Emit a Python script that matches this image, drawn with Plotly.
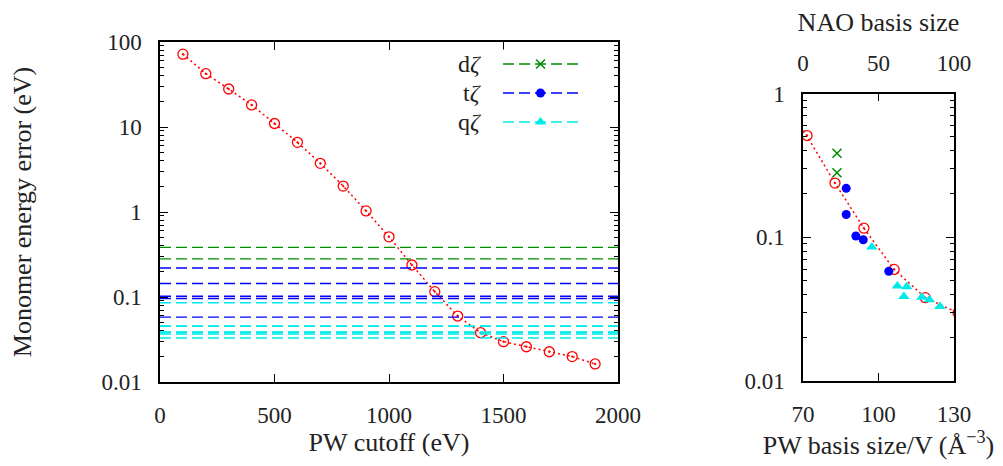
import plotly.graph_objects as go

# ---------------- data ----------------
pw_cutoff = [100, 200, 300, 400, 500, 600, 700, 800, 900, 1000,
             1100, 1200, 1300, 1400, 1500, 1600, 1700, 1800, 1900]
pw_error = [72, 42.4, 28, 18.2, 11.0, 6.6, 3.74, 2.02, 1.03, 0.51,
            0.238, 0.1156, 0.0597, 0.038, 0.0298, 0.026, 0.0227, 0.0199, 0.0163]

# PW cutoffs 900..1500 eV expressed as basis size per volume (right panel)
pw_basis_per_v = [61.1, 71.6, 82.7, 94.2, 106.2, 118.6, 131.6]
pw_basis_error = [1.03, 0.51, 0.238, 0.1156, 0.0597, 0.038, 0.0298]

dz_size = [22.5, 22.5]
dz_error = [0.384, 0.281]
tz_size = [28.6, 28.6, 35.0, 39.9, 56.8]
tz_error = [0.219, 0.144, 0.102, 0.096, 0.058]
qz_size = [45.6, 62.5, 68.7, 66.8, 78.7, 83.7, 90.7]
qz_error = [0.0855, 0.0458, 0.0452, 0.0387, 0.0382, 0.0367, 0.033]

legend_labels = ["d<i>ζ</i>", "t<i>ζ</i>", "q<i>ζ</i>"]

left_x_ticks = [0, 500, 1000, 1500, 2000]
left_y_ticks = [0.01, 0.1, 1, 10, 100]
left_y_ticktext = ["0.01", "0.1", "1", "10", "100"]
right_y_ticks = [0.01, 0.1, 1]
right_y_ticktext = ["0.01", "0.1", "1"]
pw_v_ticks = [70, 100, 130]
nao_ticks = [0, 50, 100]

# ---------------- styles ----------------
OFF = 8                      # page body margin of the browser
W, H = 1003 - OFF, 466 - OFF
FONT = "Liberation Serif, Times New Roman, DejaVu Serif, serif"
FS = 23
FS_TITLE = 26
TXT = "#222222"
RED = "#ff0000"
GREEN = "rgb(0,140,0)"
BLUE = "#0000ff"
CYAN = "#00eaea"
DASH = "11px,5px"
DOT = "2px,3px"


def px_x(p):
    return (p - OFF) / W


def px_y(p):
    return 1 - (p - OFF) / H


minor_left = [m * 10 ** e for e in range(-2, 2) for m in range(2, 10)]
minor_right = [m * 10 ** e for e in range(-2, 0) for m in range(2, 10)]

fig = go.Figure()

# ---- left panel ----
fig.add_trace(go.Scatter(
    x=pw_cutoff, y=pw_error, mode="lines+markers", xaxis="x", yaxis="y",
    line=dict(color=RED, width=1.5, dash=DOT),
    marker=dict(symbol="circle-open-dot", size=10, color=RED, line=dict(width=1.3, color=RED)),
    showlegend=False))


def hlines(vals):
    xs, ys = [], []
    for v in vals:
        xs += [left_x_ticks[0], left_x_ticks[-1], None]
        ys += [v, v, None]
    return xs, ys


for vals, col in [(dz_error, GREEN), (tz_error, BLUE), (qz_error, CYAN)]:
    xs, ys = hlines(vals)
    fig.add_trace(go.Scatter(x=xs, y=ys, mode="lines", xaxis="x", yaxis="y",
                             line=dict(color=col, width=1.4, dash=DASH),
                             showlegend=False, hoverinfo="skip"))

# ---- right panel ----
fig.add_trace(go.Scatter(
    x=pw_basis_per_v, y=pw_basis_error, mode="lines+markers", xaxis="x2", yaxis="y2",
    line=dict(color=RED, width=1.5, dash=DOT),
    marker=dict(symbol="circle-open-dot", size=10, color=RED, line=dict(width=1.3, color=RED)),
    showlegend=False))
fig.add_trace(go.Scatter(
    x=dz_size, y=dz_error, mode="markers", xaxis="x3", yaxis="y2",
    marker=dict(symbol="x-thin-open", size=9, color=GREEN, line=dict(width=1.5, color=GREEN)),
    showlegend=False))
fig.add_trace(go.Scatter(
    x=tz_size, y=tz_error, mode="markers", xaxis="x3", yaxis="y2",
    marker=dict(symbol="circle", size=9, color=BLUE, line=dict(width=0)),
    showlegend=False))
fig.add_trace(go.Scatter(
    x=qz_size, y=qz_error, mode="markers", xaxis="x3", yaxis="y2",
    marker=dict(symbol="triangle-up", size=10, color=CYAN, line=dict(width=0)),
    showlegend=False))

# ---- legend keys (gnuplot style: text left, sample right) ----
key_styles = [
    (GREEN, dict(symbol="x-thin-open", size=9, color=GREEN, line=dict(width=1.5, color=GREEN))),
    (BLUE, dict(symbol="circle", size=9, color=BLUE, line=dict(width=0))),
    (CYAN, dict(symbol="triangle-up", size=10, color=CYAN, line=dict(width=0))),
]
for i, (col, mk) in enumerate(key_styles):
    fig.add_trace(go.Scatter(x=[0, 1], y=[i, i], mode="lines", xaxis="x4", yaxis="y4",
                             line=dict(color=col, width=1.4, dash=DASH),
                             showlegend=False, hoverinfo="skip"))
    fig.add_trace(go.Scatter(x=[0.5], y=[i], mode="markers", xaxis="x4", yaxis="y4",
                             marker=mk, showlegend=False, hoverinfo="skip"))
    fig.add_annotation(x=px_x(484), y=i, xref="paper", yref="y4", text=legend_labels[i],
                       showarrow=False, xanchor="right", yanchor="middle",
                       font=dict(family=FONT, size=24, color=TXT))

axis_common = dict(showline=True, linecolor="black", linewidth=1.5, showgrid=False,
                   zeroline=False, ticks="inside", ticklen=8, tickwidth=1.2, tickcolor="black",
                   tickfont=dict(family=FONT, size=FS, color=TXT), automargin=False)
title_font = dict(family=FONT, size=FS_TITLE, color=TXT)

fig.update_layout(
    width=W, height=H, margin=dict(l=0, r=0, t=0, b=0),
    font=dict(family=FONT, size=FS, color=TXT),
    paper_bgcolor="white", plot_bgcolor="white", showlegend=False,
    xaxis=dict(axis_common, domain=[px_x(160), px_x(618)], range=[0, 2000],
               tickvals=left_x_ticks, ticktext=[str(v) for v in left_x_ticks],
               mirror="ticks", anchor="y", ticklabelstandoff=12,
               title=dict(text="PW cutoff (eV)", font=title_font, standoff=4)),
    yaxis=dict(axis_common, type="log", domain=[px_y(382), px_y(42)], range=[-2, 2],
               tickvals=left_y_ticks, ticktext=left_y_ticktext, mirror="ticks", anchor="x",
               ticklabelstandoff=12,
               minor=dict(ticks="inside", ticklen=4, tickwidth=1, tickcolor="black", tickvals=minor_left),
               title=dict(text="Monomer energy error (eV)", font=title_font, standoff=68)),
    xaxis2=dict(axis_common, domain=[px_x(803), px_x(954)], range=[70, 130],
                tickvals=pw_v_ticks, ticktext=[str(v) for v in pw_v_ticks], anchor="y2",
                ticklabelstandoff=12,
                title=dict(text="PW basis size/V (Å<sup>−3</sup>)", font=title_font, standoff=4)),
    xaxis3=dict(axis_common, overlaying="x2", side="top", range=[0, 100], anchor="y2",
                tickvals=nao_ticks, ticktext=[str(v) for v in nao_ticks], ticklabelstandoff=12,
                title=dict(text="NAO basis size", font=title_font, standoff=16)),
    yaxis2=dict(axis_common, type="log", domain=[px_y(381), px_y(93.5)], range=[-2, 0],
                tickvals=right_y_ticks, ticktext=right_y_ticktext, mirror="ticks", anchor="x2",
                ticklabelstandoff=12,
                minor=dict(ticks="inside", ticklen=4, tickwidth=1, tickcolor="black", tickvals=minor_right)),
    xaxis4=dict(domain=[px_x(503), px_x(578)], range=[0, 1], visible=False, anchor="y4"),
    yaxis4=dict(domain=[px_y(136.5), px_y(49.5)], range=[2.5, -0.5], visible=False, anchor="x4"),
)

fig.write_html("out.html")
